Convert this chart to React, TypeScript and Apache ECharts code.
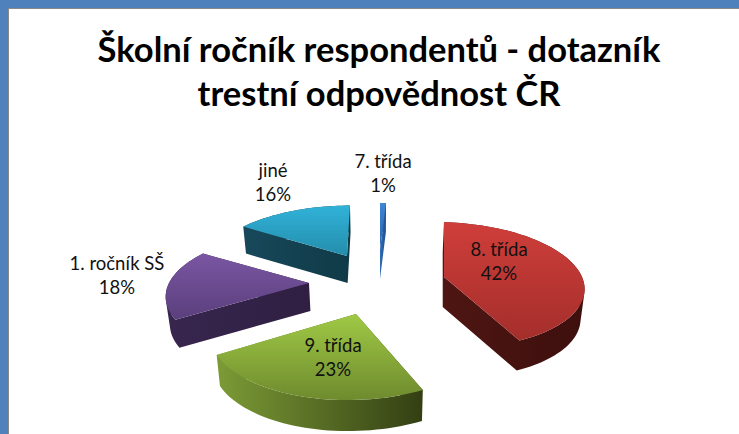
import React, { useEffect, useRef } from "react";
import * as echarts from "echarts";

const titleLines = ["Školní ročník respondentů - dotazník", "trestní odpovědnost ČR"];
const categories = ["7. třída", "8. třída", "9. třída", "1. ročník SŠ", "jiné"];
const values = [1, 42, 23, 18, 16];

// Perspective layout of each exploded slice: apex, radii, perspective, shear, wall height
const sliceLayout = [
  { ax: 380, ay: 250, rx: 116, ry: 57, k: 0.21, sh: 0, depth: 29 },
  { ax: 444, ay: 277, rx: 138, ry: 62, k: 0.13, sh: 8.7, depth: 30 },
  { ax: 356, ay: 314, rx: 142, ry: 68, k: 0.21, sh: -7, depth: 31 },
  { ax: 309, ay: 283, rx: 140, ry: 61, k: 0.21, sh: -0.7, depth: 28 },
  { ax: 347, ay: 256, rx: 139, ry: 61, k: 0.21, sh: -3.6, depth: 27 },
];
const topColors = [
  ["#3E86D6", "#2A62A6"],
  ["#CF3E3A", "#A42E2B"],
  ["#A0C945", "#6E8B2E"],
  ["#7B56A3", "#5A3F7C"],
  ["#31B2D8", "#248DAC"],
];
const wallColors = [
  ["#2F6DB5", "#1F4F8C"],
  ["#4E1613", "#3D0F0D"],
  ["#7C9B36", "#333F13"],
  ["#38264E", "#2F1F42"],
  ["#17485A", "#103A47"],
];
const labelPos = [
  [383, 173],
  [499, 261],
  [333, 357],
  [117, 275],
  [273, 182],
];

const FONT = "Lato, 'Noto Sans', sans-serif";
const VANISH_X = 380;
const WALL_TAPER = 0.02;

function project(i: number, deg: number): [number, number] {
  const l = sliceLayout[i];
  const t = (deg * Math.PI) / 180;
  const y = -Math.cos(t);
  const s = 1 / (1 - l.k * y);
  return [l.ax + s * (l.rx * Math.sin(t) + l.sh * y), l.ay + s * l.ry * y];
}

function outline(i: number, a0: number, a1: number): [number, number][] {
  const pts: [number, number][] = [[sliceLayout[i].ax, sliceLayout[i].ay]];
  const n = Math.max(2, Math.ceil((a1 - a0) / 2));
  for (let j = 0; j <= n; j++) pts.push(project(i, a0 + ((a1 - a0) * j) / n));
  return pts;
}

function toPath(pts: [number, number][]) {
  return pts.map((p, j) => `${j ? "L" : "M"}${p[0].toFixed(2)} ${p[1].toFixed(2)}`).join("") + "Z";
}

const total = values.reduce((a, b) => a + b, 0);

function renderSlice(params: any, api: any) {
  const i = params.dataIndex;
  const before = values.slice(0, i).reduce((a, b) => a + b, 0);
  const a0 = (before / total) * 360;
  const a1 = ((before + api.value(0)) / total) * 360;
  const pts = outline(i, a0, a1);
  const d = sliceLayout[i].depth;
  const lower = (p: [number, number]): [number, number] => [p[0] + (VANISH_X - p[0]) * WALL_TAPER, p[1] + d];
  let wall = "";
  for (let j = 0; j < pts.length; j++) {
    const p = pts[j];
    const q = pts[(j + 1) % pts.length];
    const quad: [number, number][] = [p, q, lower(q), lower(p)];
    let area = 0;
    for (let m = 0; m < 4; m++) {
      const u = quad[m];
      const v = quad[(m + 1) % 4];
      area += u[0] * v[1] - v[0] * u[1];
    }
    wall += toPath(area >= 0 ? quad : [quad[3], quad[2], quad[1], quad[0]]);
  }
  const grad = (c: string[], horizontal: boolean) => ({
    type: "linear",
    x: 0,
    y: 0,
    x2: horizontal ? 1 : 0,
    y2: horizontal ? 0 : 1,
    colorStops: [
      { offset: 0, color: c[0] },
      { offset: 1, color: c[1] },
    ],
  });
  return {
    type: "group",
    children: [
      { type: "path", shape: { pathData: wall }, style: { fill: grad(wallColors[i], true) } },
      { type: "path", shape: { pathData: toPath(pts) }, style: { fill: grad(topColors[i], false) } },
      {
        type: "text",
        x: labelPos[i][0],
        y: labelPos[i][1],
        z2: 10,
        style: {
          text: `${categories[i]}\n${api.value(0)}%`,
          fill: "#111111",
          font: `18.5px ${FONT}`,
          lineHeight: 24,
          align: "center",
          verticalAlign: "middle",
        },
      },
    ],
  };
}

export default function App() {
  const ref = useRef<HTMLDivElement>(null);
  useEffect(() => {
    document.body.style.margin = "0";
    const chart = echarts.init(ref.current!, null, { renderer: "svg" });
    chart.setOption({
      animation: false,
      backgroundColor: "#ffffff",
      title: {
        text: titleLines.join("\n"),
        left: 374,
        top: 21,
        textAlign: "center",
        textStyle: { fontFamily: FONT, fontSize: 34.5, fontWeight: "bold", color: "#000000", lineHeight: 44 },
      },
      graphic: [
        { type: "rect", shape: { x: 0, y: 0, width: 739, height: 8 }, style: { fill: "#4F81BD" } },
        { type: "rect", shape: { x: 0, y: 8, width: 739, height: 1 }, style: { fill: "#8A8A8A" } },
        { type: "rect", shape: { x: 0, y: 0, width: 8, height: 434 }, style: { fill: "#4F81BD" } },
        { type: "rect", shape: { x: 8, y: 9, width: 1, height: 425 }, style: { fill: "#8A8A8A" } },
      ],
      series: [
        {
          type: "custom",
          coordinateSystem: "none",
          renderItem: renderSlice,
          data: values.map((v, i) => ({ name: categories[i], value: [v] })),
        },
      ],
    });
    return () => chart.dispose();
  }, []);
  return <div ref={ref} style={{ width: 739, height: 434 }} />;
}
